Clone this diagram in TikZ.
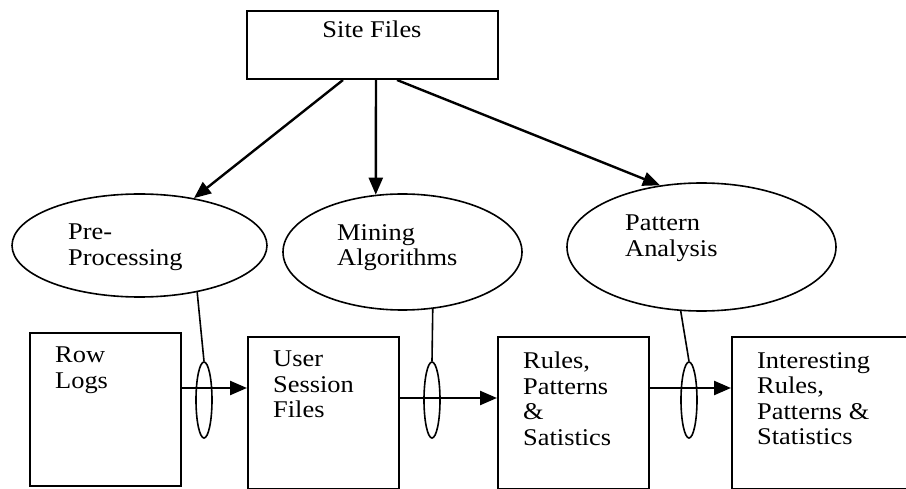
\documentclass[tikz,border=0pt]{standalone}
\usepackage{fontspec}
\setmainfont{Liberation Serif}[FakeStretch=1.1]
\usetikzlibrary{arrows.meta,positioning,shapes.geometric}

\begin{document}
\begin{tikzpicture}[x=1pt,y=-1pt,
    box/.style={draw,line width=2pt,minimum width=151pt,minimum height=152pt,anchor=north west,inner sep=0},
    oval/.style={draw,ellipse,line width=1.6pt,inner sep=0},
    tap/.style={draw,ellipse,line width=1.6pt,minimum width=16pt,minimum height=76pt,inner sep=0},
    txt/.style={align=left,inner sep=0,anchor=north west,font=\fontsize{24}{25.5}\selectfont},
    arr/.style={line width=2.4pt,-{Triangle[length=17pt,width=14pt]}}]
  \useasboundingbox (0,0) rectangle (906,489);

  % Site files
  \node[draw,line width=2pt,minimum width=251pt,minimum height=68pt,anchor=north] (site) at (372.5,10) {};
  \node[txt,anchor=north] (sitetxt) at (372,21) {Site Files};

  % Processing steps
  \node[oval,minimum width=255pt,minimum height=103pt] (pre) at (139.5,245.5) {};
  \node[oval,minimum width=239pt,minimum height=116pt] (mine) at (402.5,252) {};
  \node[oval,minimum width=269pt,minimum height=128pt] (patt) at (701.5,247) {};
  \node[txt] (pretxt) at (68,224) {Pre-\\Processing};
  \node[txt] (minetxt) at (337,224) {Mining\\Algorithms};
  \node[txt] (patttxt) at (625,215) {Pattern\\Analysis};

  % Data boxes
  \node[box,minimum height=153pt] (row) at (29,332) {};
  \node[box] (user) at (247,336) {};
  \node[box] (rules) at (497,336) {};
  \node[box,minimum width=185pt] (inter) at (731,336) {};
  \node[txt,below right=15pt and 26pt of row.north west] (rowtxt) {Row\\Logs};
  \node[txt,below right=15pt and 26pt of user.north west] (usertxt) {User\\Session\\Files};
  \node[txt,below right=16pt and 26pt of rules.north west] (rulestxt) {Rules,\\Patterns\\\&\\Satistics};
  \node[txt,below right=16pt and 26pt of inter.north west] (intertxt) {Interesting\\Rules,\\Patterns \&\\Statistics};

  % Taps
  \node[tap] (tap1) at (204,400) {};
  \node[tap] (tap2) at (432,400) {};
  \node[tap] (tap3) at (689,400) {};

  % Arrows from site files
  \draw[arr] ([xshift=-29.5pt]site.south) -- (pre.41);
  \draw[arr] ([xshift=3.5pt]site.south) -- (mine.115);
  \draw[arr] ([xshift=24.5pt]site.south) -- (patt.124);

  % Flow between boxes
  \draw[arr] ([yshift=21.5pt]row.east) -- ([yshift=25pt]user.west);
  \draw[arr] ([yshift=15pt]user.east) -- ([yshift=15pt]rules.west);
  \draw[arr] ([yshift=25pt]rules.east) -- ([yshift=25pt]inter.west);

  % Links to taps
  \draw[line width=1.6pt] (pre.-39) -- (tap1.north);
  \draw[line width=1.6pt] (mine.-62) -- (tap2.north);
  \draw[line width=1.6pt] (patt.-108) -- (tap3.north);
\end{tikzpicture}
\end{document}
